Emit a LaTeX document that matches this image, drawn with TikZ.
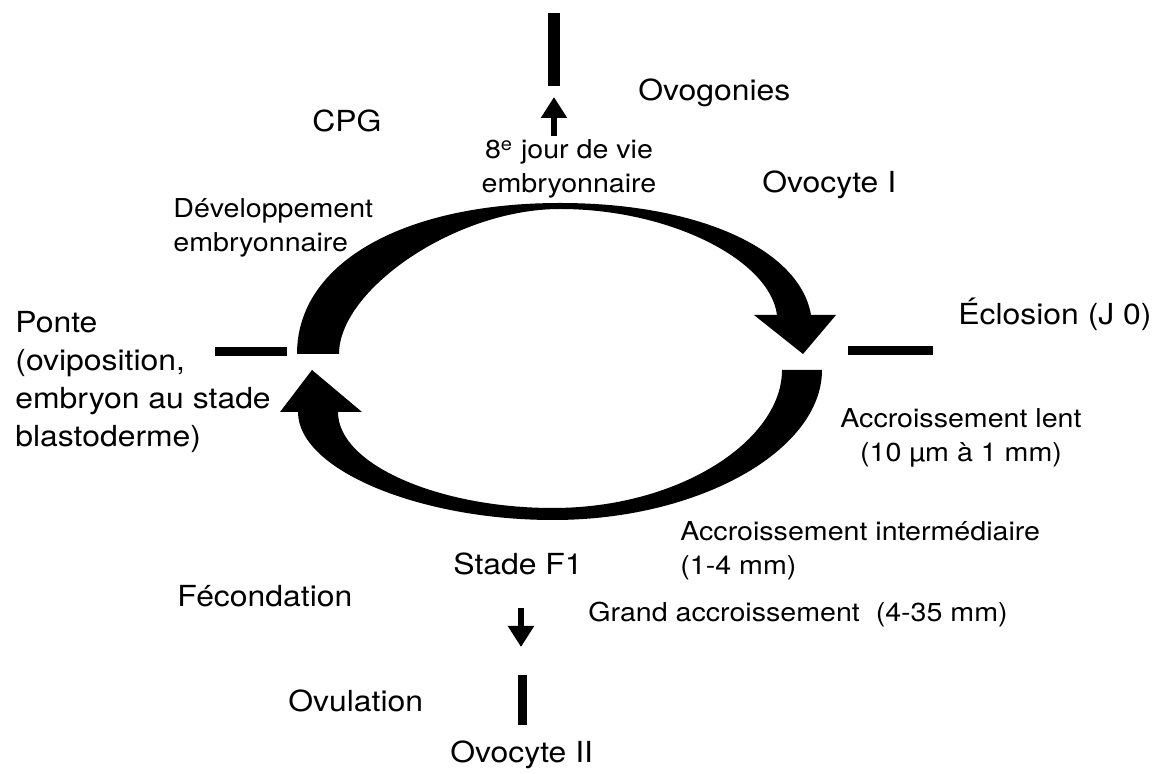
\documentclass[tikz,border=0pt]{standalone}
\usepackage{fontspec}
\setmainfont{TeX Gyre Heros}[FakeStretch=1.1]
\usetikzlibrary{arrows.meta}

\begin{document}
\begin{tikzpicture}[x=0.5pt, y=-0.5pt,
  big/.style={font=\fontsize{14.5}{19}\selectfont, inner sep=0pt, anchor=base west, align=left},
  small/.style={font=\fontsize{13}{17}\selectfont, inner sep=0pt, anchor=base west, align=left},
  bar/.style={line width=4.5pt},
  stagearrow/.style={line width=3pt, -{Triangle[width=12.5pt, length=10.5pt]}}]
\useasboundingbox (0,0) rectangle (1163,774);

%%%  nodes

% stage labels (multi-line ones sit on their last line)
\node [big] (cpg) at (312,132) {CPG};
\node [big] (ovogonies) at (638,101) {Ovogonies};
\node [big] (ovocyte1) at (762,193) {Ovocyte I};
\node [big] (ponte) at (15,447) {Ponte\\(oviposition,\\embryon au stade\\blastoderme)};
\node [big] (eclosion) at (958,325) {Éclosion (J 0)};
\node [big] (stadef1) at (453,575) {Stade F1};
\node [big] (fecondation) at (177,607) {Fécondation};
\node [big] (ovulation) at (288,712) {Ovulation};
\node [big] (ovocyte2) at (450,763) {Ovocyte II};

% growth labels
\node [small, anchor=base, align=center] (jour) at (569,193) {8\textsuperscript{e} jour de vie\\embryonnaire};
\node [small] (devel) at (173,252) {Développement\\embryonnaire};
\node [small, anchor=base, align=center] (lent) at (961,462) {Accroissement lent\\(10 µm à 1 mm)};
\node [small] (interm) at (680,575) {Accroissement intermédiaire\\(1-4 mm)};
\node [small] (grand) at (588,622) {Grand accroissement~~(4-35 mm)};

% arrow ends
\coordinate (up1) at (554,136);
\coordinate (up2) at (554,97);
\coordinate (down1) at (521,608);
\coordinate (down2) at (521,647);

%%% edges

% stage marks
\draw [bar] (215,352) -- (287,352);
\draw [bar] (848,350.5) -- (933,350.5);
\draw [bar, line width=6pt] (554,13) -- (554,86);
\draw [bar] (522.5,675) -- (522.5,725);

% small arrows
\draw [stagearrow] (up1) -- (up2);
\draw [stagearrow] (down1) -- (down2);

% cycle, upper half
\fill (297,354) .. controls (297,262) and (405,203) .. (560,203)
  .. controls (700,203) and (800,250) .. (811,315)
  -- (836,315) -- (803,354) -- (754,315) -- (777,315)
  .. controls (770,260) and (670,209) .. (560,209)
  .. controls (455,209) and (339,290) .. (339,354) -- cycle;

% cycle, lower half
\fill (782,370) -- (822,370)
  .. controls (822,450) and (700,520) .. (553,520)
  .. controls (420,520) and (298,470) .. (298,412)
  -- (280,412) -- (312,370) -- (362,412) -- (338,412)
  .. controls (338,465) and (440,508) .. (553,508)
  .. controls (680,508) and (782,440) .. (782,370) -- cycle;
\end{tikzpicture}
\end{document}
